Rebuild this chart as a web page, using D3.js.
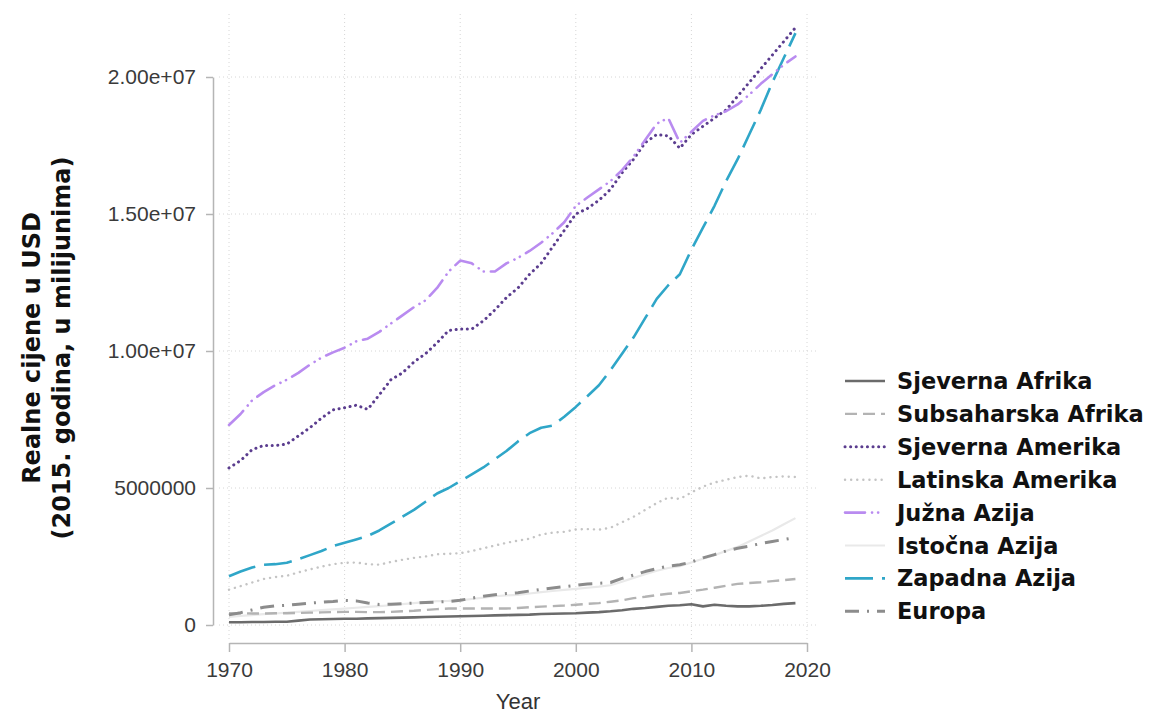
<!DOCTYPE html>
<html><head><meta charset="utf-8">
<script src="https://cdn.jsdelivr.net/npm/d3@7"></script>
<style>body{margin:0;background:#fff}svg{display:block}</style>
</head><body>
<svg id="c" width="1149" height="717"></svg>
<script>
const years = d3.range(1970, 2020);
const seriesNames = ["Sjeverna Afrika","Subsaharska Afrika","Sjeverna Amerika","Latinska Amerika","Južna Azija","Istočna Azija","Zapadna Azija","Europa"];
// values in millions (multiplied by 1e6 when plotted)
const sjevernaAfrika = [0.10,0.10,0.11,0.11,0.12,0.12,0.16,0.20,0.21,0.22,0.23,0.23,0.24,0.25,0.26,0.27,0.28,0.29,0.30,0.31,0.32,0.33,0.34,0.35,0.36,0.37,0.38,0.40,0.41,0.42,0.43,0.45,0.47,0.50,0.54,0.59,0.62,0.66,0.70,0.72,0.76,0.68,0.74,0.70,0.68,0.68,0.70,0.73,0.77,0.80];
const subsaharskaAfrika = [0.43,0.43,0.42,0.42,0.43,0.43,0.44,0.45,0.46,0.47,0.48,0.48,0.47,0.47,0.48,0.50,0.52,0.55,0.58,0.60,0.60,0.60,0.60,0.60,0.60,0.62,0.65,0.67,0.69,0.71,0.74,0.77,0.80,0.85,0.90,0.98,1.03,1.09,1.14,1.17,1.23,1.29,1.36,1.43,1.50,1.53,1.56,1.60,1.64,1.68];
const sjevernaAmerika = [5.73,6.00,6.40,6.55,6.55,6.60,6.90,7.20,7.55,7.85,7.93,8.02,7.87,8.40,8.95,9.20,9.60,9.90,10.30,10.75,10.80,10.80,11.10,11.50,11.95,12.30,12.80,13.20,13.80,14.40,15.00,15.20,15.50,15.90,16.50,17.00,17.60,17.90,17.85,17.40,17.90,18.20,18.50,18.80,19.30,19.80,20.30,20.80,21.30,21.80];
const latinskaAmerika = [1.29,1.42,1.55,1.68,1.75,1.80,1.92,2.03,2.13,2.22,2.27,2.28,2.22,2.20,2.30,2.38,2.45,2.50,2.58,2.60,2.62,2.70,2.80,2.90,3.00,3.08,3.15,3.30,3.37,3.40,3.49,3.50,3.48,3.55,3.75,3.95,4.20,4.45,4.65,4.60,4.84,5.05,5.20,5.30,5.40,5.45,5.35,5.40,5.42,5.40];
const juznaAzija = [7.30,7.70,8.20,8.50,8.75,8.95,9.20,9.50,9.76,9.95,10.12,10.35,10.45,10.70,11.00,11.30,11.60,11.85,12.30,12.90,13.30,13.20,12.90,12.90,13.20,13.40,13.65,13.95,14.30,14.70,15.30,15.60,15.90,16.20,16.60,17.10,17.70,18.30,18.50,17.60,18.00,18.40,18.60,18.75,19.00,19.35,19.75,20.10,20.45,20.75];
const istocnaAzija = [0.30,0.33,0.36,0.40,0.42,0.45,0.48,0.51,0.54,0.57,0.60,0.63,0.66,0.69,0.72,0.76,0.80,0.84,0.87,0.88,0.90,0.95,1.00,1.05,1.08,1.10,1.15,1.20,1.24,1.28,1.32,1.36,1.40,1.45,1.58,1.72,1.85,1.98,2.08,2.15,2.28,2.42,2.55,2.70,2.85,3.05,3.25,3.45,3.68,3.90];
const zapadnaAzija = [1.78,1.95,2.10,2.20,2.22,2.27,2.40,2.55,2.70,2.88,3.00,3.12,3.25,3.45,3.70,3.95,4.20,4.50,4.80,5.00,5.25,5.50,5.75,6.05,6.35,6.70,7.00,7.20,7.28,7.60,7.96,8.35,8.75,9.30,9.90,10.50,11.20,11.90,12.40,12.80,13.70,14.50,15.30,16.20,17.00,17.90,18.80,19.80,20.70,21.60];
const europa = [0.37,0.45,0.55,0.65,0.70,0.72,0.76,0.80,0.83,0.86,0.90,0.88,0.80,0.75,0.76,0.78,0.80,0.82,0.84,0.86,0.90,0.98,1.05,1.10,1.15,1.18,1.24,1.30,1.35,1.40,1.45,1.50,1.52,1.55,1.70,1.82,1.95,2.06,2.15,2.20,2.30,2.45,2.57,2.70,2.80,2.88,2.97,3.05,3.12,3.19];
const xTicks = [1970,1980,1990,2000,2010,2020];
const yTicks = [0,5e6,1e7,1.5e7,2e7];
const yTickLabels = ["0","5000000","1.00e+07","1.50e+07","2.00e+07"];

const valuesList = [sjevernaAfrika,subsaharskaAfrika,sjevernaAmerika,latinskaAmerika,juznaAzija,istocnaAzija,zapadnaAzija,europa];
const styles = [
  {color:"#6b6b6b", w:2.6, dash:null, cap:"butt"},
  {color:"#b3b3b3", w:2.4, dash:"12,6", cap:"butt"},
  {color:"#5b3d8f", w:3, dash:"0.1,5.5", cap:"round"},
  {color:"#c4c4c4", w:2.4, dash:"0.1,6", cap:"round"},
  {color:"#b98bf0", w:2.6, dash:"20,7,0.1,6,0.1,7", cap:"round"},
  {color:"#e9e9e9", w:2.2, dash:null, cap:"butt"},
  {color:"#2fa6c8", w:2.6, dash:"28,9", cap:"butt"},
  {color:"#8c8c8c", w:3, dash:"14,8,2,8", cap:"butt"}
];
const drawOrder = [5,1,0,7,3,6,2,4];

const svg = d3.select("#c");
const x = d3.scaleLinear().domain([1970,2020]).range([229,807]);
const y = d3.scaleLinear().domain([0,2e7]).range([625,77]);

// grid
const grid = svg.append("g").attr("stroke","#d6d6d6").attr("stroke-width",1).attr("stroke-dasharray","1,3");
xTicks.forEach(t=>grid.append("line").attr("x1",x(t)).attr("x2",x(t)).attr("y1",14).attr("y2",640));
yTicks.forEach(t=>grid.append("line").attr("x1",219).attr("x2",817).attr("y1",y(t)).attr("y2",y(t)));

// axes
const yAxis = d3.axisLeft(y).tickValues(yTicks).tickFormat((d,i)=>yTickLabels[i]).tickSize(7).tickSizeOuter(0).tickPadding(10);
const gy = svg.append("g").attr("transform","translate(213,0)").call(yAxis);
const xAxis = d3.axisBottom(x).tickValues(xTicks).tickFormat(d3.format("d")).tickSize(9).tickSizeOuter(0).tickPadding(10);
const gx = svg.append("g").attr("transform","translate(0,643)").call(xAxis);
[gx,gy].forEach(g=>{
  g.select(".domain").attr("stroke","#b5b5b5").attr("stroke-width",1.5);
  g.selectAll(".tick line").attr("stroke","#b5b5b5").attr("stroke-width",1.5);
  g.selectAll(".tick text").attr("fill","#3a3a3a").attr("font-family","Liberation Sans, Arial, sans-serif").attr("font-size",21);
});

// lines
const line = d3.line().x((d,i)=>x(years[i])).y(d=>y(d*1e6));
drawOrder.forEach(k=>{
  const s = styles[k];
  svg.append("path").datum(valuesList[k]).attr("d",line).attr("fill","none")
    .attr("stroke",s.color).attr("stroke-width",s.w).attr("stroke-linecap",s.cap)
    .attr("stroke-linejoin","round").attr("stroke-dasharray",s.dash);
});

// axis titles
svg.append("text").attr("x",518).attr("y",709).attr("text-anchor","middle")
  .attr("font-family","Liberation Sans, Arial, sans-serif").attr("font-size",22).attr("fill","#333").text("Year");
const yt = svg.append("text").attr("transform","translate(0,348) rotate(-90)").attr("text-anchor","middle")
  .attr("font-family","DejaVu Sans, sans-serif").attr("font-weight","bold").attr("font-size",24).attr("fill","#111");
yt.append("tspan").attr("x",0).attr("y",40).text("Realne cijene u USD");
yt.append("tspan").attr("x",0).attr("y",70).text("(2015. godina, u milijunima)");

// legend
const lg = svg.append("g");
seriesNames.forEach((n,i)=>{
  const s = styles[i];
  const cy = 381 + i*32.9;
  lg.append("line").attr("x1",845).attr("x2",885).attr("y1",cy).attr("y2",cy)
    .attr("stroke",s.color).attr("stroke-width",s.w).attr("stroke-linecap",s.cap).attr("stroke-dasharray",s.dash);
  lg.append("text").attr("x",897).attr("y",cy+8).attr("font-family","DejaVu Sans, sans-serif")
    .attr("font-weight","bold").attr("font-size",22.5).attr("fill","#111").text(n);
});
</script>
</body></html>
